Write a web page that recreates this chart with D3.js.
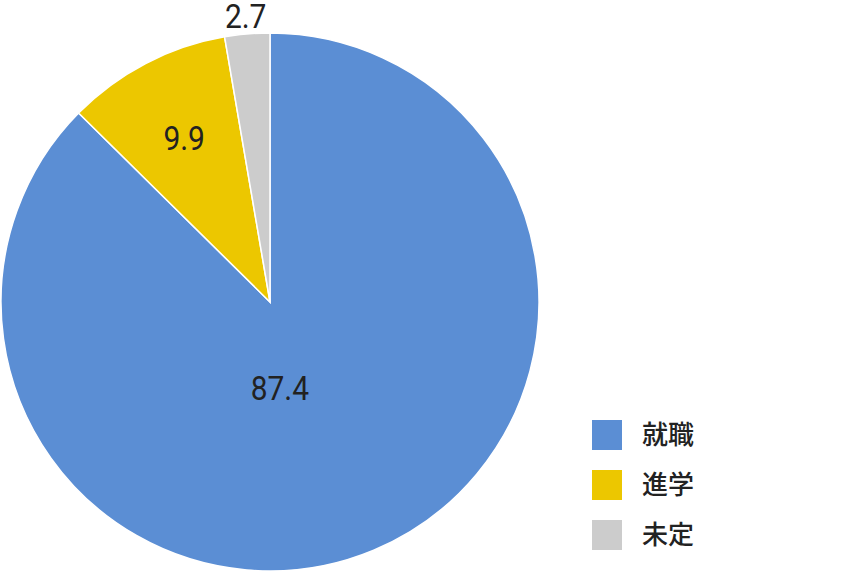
<!DOCTYPE html>
<html><head><meta charset="utf-8">
<script src="https://cdn.jsdelivr.net/npm/d3@7"></script>
<style>html,body{margin:0;padding:0;background:#fff;}svg{display:block;}</style>
</head><body>
<svg id="c" width="868" height="573"></svg>
<script>
const categories = ["就職", "進学", "未定"];
const values = [87.4, 9.9, 2.7];
const valueLabels = ["87.4", "9.9", "2.7"];
const colors = ["#5b8ed4", "#ecc700", "#cccccc"];

const svg = d3.select("#c");
const cx = 270, cy = 302, r = 269;
const g = svg.append("g").attr("transform", `translate(${cx},${cy})`);

const pie = d3.pie().sort(null).value(d => d.v);
const data = categories.map((c, i) => ({c, v: values[i], label: valueLabels[i], color: colors[i]}));
const arcs = pie(data);
const arc = d3.arc().innerRadius(0).outerRadius(r);

g.selectAll("path").data(arcs).join("path")
  .attr("d", arc)
  .attr("fill", d => d.data.color)
  .attr("stroke", "#fff")
  .attr("stroke-width", 1.5);

// label placement: [radius factor, angle override (deg from top) or null]
const labelPlace = [[0.32, 173.4], [0.69, null], [1.068, null]];
g.selectAll("text.val").data(arcs).join("text")
  .attr("class", "val")
  .attr("transform", (d, i) => {
    const [rf, ang] = labelPlace[i];
    const a = ang != null ? ang * Math.PI / 180 : (d.startAngle + d.endAngle) / 2;
    const x = Math.sin(a) * r * rf, y = -Math.cos(a) * r * rf;
    return `translate(${x},${y}) scale(0.88,1)`;
  })
  .attr("text-anchor", "middle")
  .attr("dy", "0.36em")
  .attr("font-family", "Roboto, 'Noto Sans', sans-serif")
  .attr("font-size", 34)
  .attr("fill", "#222")
  .text(d => d.data.label);

const legend = svg.append("g").attr("transform", "translate(592,420)");
const li = legend.selectAll("g").data(data).join("g")
  .attr("transform", (d, i) => `translate(0,${i * 50})`);
li.append("rect").attr("width", 30).attr("height", 30).attr("fill", d => d.color);
li.append("text")
  .attr("x", 50).attr("y", 15).attr("dy", "0.36em")
  .attr("font-family", "'Noto Sans CJK JP', sans-serif")
  .attr("font-size", 26)
  .attr("font-weight", 500)
  .attr("fill", "#222")
  .text(d => d.c);
</script>
</body></html>
